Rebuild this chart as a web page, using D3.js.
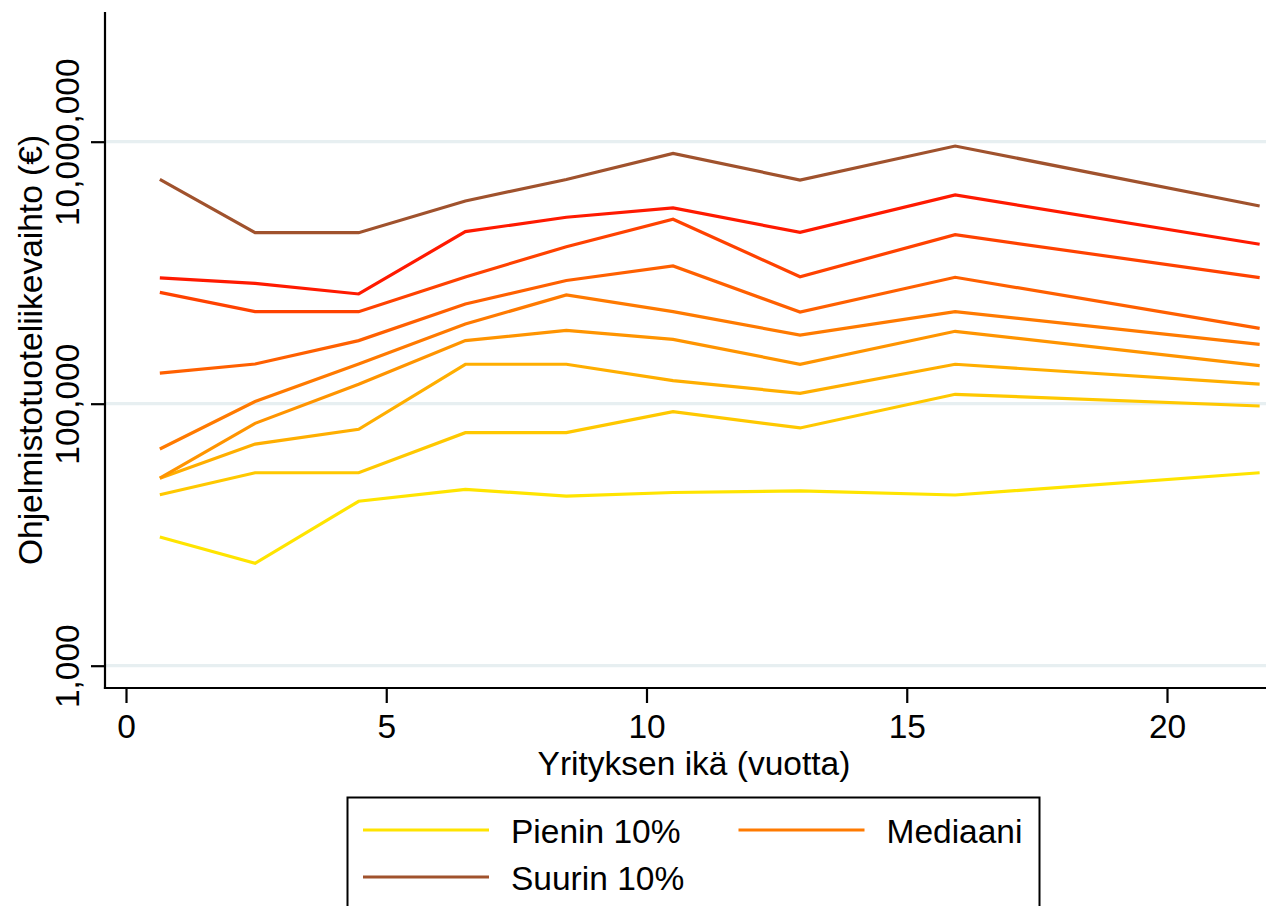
<!DOCTYPE html>
<html>
<head>
<meta charset="utf-8">
<script src="https://cdn.jsdelivr.net/npm/d3@7"></script>
<style>
  html, body { margin: 0; padding: 0; background: #fff; }
  svg { display: block; }
  text { font-family: "Liberation Sans", Arial, Helvetica, sans-serif; fill: #000; }
</style>
</head>
<body>
<svg id="chart" width="1266" height="906"></svg>
<script>
// Company age (years), mid-point of each age group
const ages = [0.65, 2.48, 4.47, 6.52, 8.46, 10.51, 12.95, 15.93, 21.78];

// Software product turnover (€) by decile within each age group
const p10 = [9600, 6050, 18000, 22200, 19700, 21000, 21600, 20100, 29700];
const p20 = [20200, 29700, 29700, 60100, 60100, 86900, 65300, 118000, 96000];
const p30 = [27000, 49200, 63800, 200000, 200000, 150000, 120000, 200000, 141000];
const p40 = [27000, 70800, 141000, 303000, 363000, 310000, 200000, 357000, 195000];
const p50 = [45100, 104000, 201000, 406000, 676000, 504000, 334000, 504000, 284000];
const p60 = [171000, 201000, 303000, 577000, 872000, 1125000, 501000, 923000, 376000];
const p70 = [708000, 504000, 504000, 927000, 1580000, 2560000, 932000, 1950000, 916000];
const p80 = [912000, 830000, 688000, 2060000, 2650000, 3120000, 2030000, 3920000, 1650000];
const p90 = [5160000, 2020000, 2020000, 3530000, 5150000, 8150000, 5100000, 9270000, 3230000];

const seriesValues = [p10, p20, p30, p40, p50, p60, p70, p80, p90];
const seriesColors = ["#ffe400", "#ffc800", "#ffae00", "#ff9400", "#ff7a00", "#ff6000", "#ff4200", "#ff1a00", "#a0522d"];

const xTicks = [0, 5, 10, 15, 20];
const yTicks = [1000, 100000, 10000000];

const xTitle = "Yrityksen ikä (vuotta)";
const yTitle = "Ohjelmistotuoteliikevaihto (€)";

const legendItems = [
  { label: "Pienin 10%", series: 0, col: 0, row: 0 },
  { label: "Mediaani", series: 4, col: 1, row: 0 },
  { label: "Suurin 10%", series: 8, col: 0, row: 1 }
];

const svg = d3.select("#chart");
const FONT = 33.5;

// Plot frame
const frame = { left: 105, right: 1268, top: 12, bottom: 688 };

const x = d3.scaleLinear().domain([0, 20]).range([126, 1167]);
const y = d3.scaleLog().domain([1000, 10000000]).range([665.7, 141.7]);

// Horizontal gridlines
svg.append("g")
  .selectAll("line")
  .data(yTicks)
  .join("line")
  .attr("x1", frame.left)
  .attr("x2", frame.right)
  .attr("y1", d => y(d))
  .attr("y2", d => y(d))
  .attr("stroke", "#e7eff1")
  .attr("stroke-width", 3.2);

// Percentile lines
const line = d3.line()
  .x((d, i) => x(ages[i]))
  .y(d => y(d));

svg.append("g")
  .selectAll("path")
  .data(seriesValues)
  .join("path")
  .attr("d", d => line(d))
  .attr("fill", "none")
  .attr("stroke", (d, i) => seriesColors[i])
  .attr("stroke-width", 3.2)
  .attr("stroke-linejoin", "miter");

// Y axis
const yAxis = d3.axisLeft(y)
  .tickValues(yTicks)
  .tickFormat(d3.format(","))
  .tickSize(14)
  .tickPadding(0);

const gy = svg.append("g")
  .attr("transform", `translate(${frame.left},0)`)
  .call(yAxis);
gy.select(".domain").remove();
gy.selectAll(".tick line").attr("stroke", "#000").attr("stroke-width", 2.2);
gy.selectAll(".tick text")
  .attr("x", null).attr("dy", null)
  .attr("transform", "translate(-26.5,0) rotate(-90)")
  .attr("text-anchor", "middle")
  .style("font-size", FONT + "px")
  .style("font-family", '"Liberation Sans", Arial, sans-serif')
  .attr("fill", "#000");

// X axis
const xAxis = d3.axisBottom(x)
  .tickValues(xTicks)
  .tickFormat(d3.format("d"))
  .tickSize(15)
  .tickPadding(0);

const gx = svg.append("g")
  .attr("transform", `translate(0,${frame.bottom})`)
  .call(xAxis);
gx.select(".domain").remove();
gx.selectAll(".tick line").attr("stroke", "#000").attr("stroke-width", 2.2);
gx.selectAll(".tick text")
  .attr("y", 50).attr("dy", null)
  .attr("text-anchor", "middle")
  .style("font-size", FONT + "px")
  .style("font-family", '"Liberation Sans", Arial, sans-serif')
  .attr("fill", "#000");

// Axis lines
svg.append("line")
  .attr("x1", frame.left).attr("x2", frame.left)
  .attr("y1", frame.top).attr("y2", frame.bottom + 1.1)
  .attr("stroke", "#000").attr("stroke-width", 2.2);
svg.append("line")
  .attr("x1", frame.left - 1.1).attr("x2", frame.right)
  .attr("y1", frame.bottom).attr("y2", frame.bottom)
  .attr("stroke", "#000").attr("stroke-width", 2.2);

// Axis titles
svg.append("text")
  .attr("x", 694)
  .attr("y", 775)
  .attr("text-anchor", "middle")
  .style("font-size", FONT + "px")
  .text(xTitle);

svg.append("text")
  .attr("transform", `translate(42,${(frame.top + frame.bottom) / 2}) rotate(-90)`)
  .attr("text-anchor", "middle")
  .style("font-size", FONT + "px")
  .text(yTitle);

// Legend
const legend = svg.append("g");
legend.append("rect")
  .attr("x", 347.5).attr("y", 797.5)
  .attr("width", 692).attr("height", 140)
  .attr("fill", "#fff")
  .attr("stroke", "#000")
  .attr("stroke-width", 2);

const colX = [363, 738.5];
const rowY = [830, 877];
const entries = legend.selectAll("g.entry")
  .data(legendItems)
  .join("g")
  .attr("class", "entry")
  .attr("transform", d => `translate(${colX[d.col]},${rowY[d.row]})`);

entries.append("line")
  .attr("x1", 0).attr("x2", 126)
  .attr("y1", 0).attr("y2", 0)
  .attr("stroke", d => seriesColors[d.series])
  .attr("stroke-width", 3.2);

entries.append("text")
  .attr("x", 148)
  .attr("y", 12.5)
  .style("font-size", FONT + "px")
  .text(d => d.label);
</script>
</body>
</html>
